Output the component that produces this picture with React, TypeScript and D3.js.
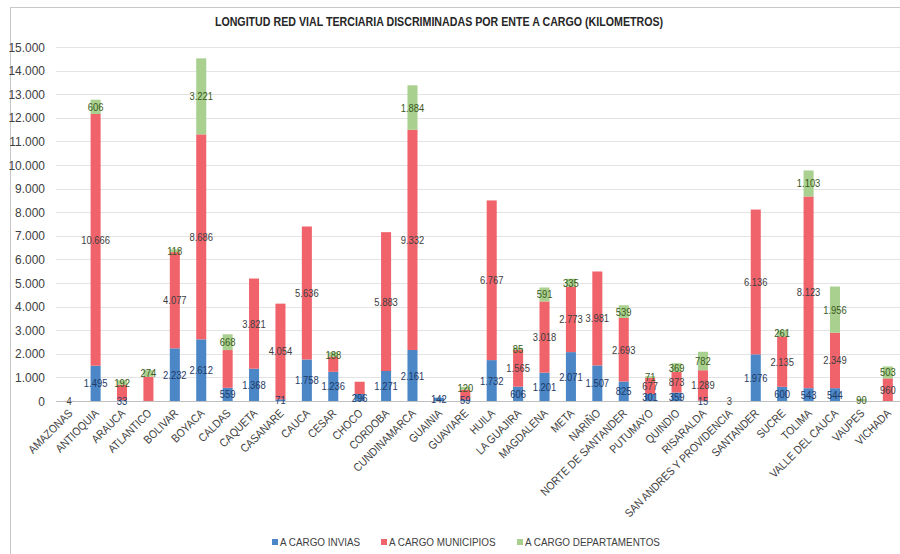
import * as React from 'react';
import * as d3 from 'd3';

const departamentos = [
    'AMAZONAS', 'ANTIOQUIA', 'ARAUCA', 'ATLANTICO', 'BOLIVAR', 'BOYACA', 'CALDAS', 'CAQUETA',
    'CASANARE', 'CAUCA', 'CESAR', 'CHOCO', 'CORDOBA', 'CUNDINAMARCA', 'GUAINIA', 'GUAVIARE',
    'HUILA', 'LA GUAJIRA', 'MAGDALENA', 'META', 'NARIÑO', 'NORTE DE SANTANDER', 'PUTUMAYO',
    'QUINDIO', 'RISARALDA', 'SAN ANDRES Y PROVIDENCIA', 'SANTANDER', 'SUCRE', 'TOLIMA',
    'VALLE DEL CAUCA', 'VAUPES', 'VICHADA'
];

const invias = [
    0, 1495, 33, 0, 2232, 2612, 559, 1368, 71, 1758, 1236, 296, 1271, 2161, 142, 59,
    1732, 606, 1201, 2071, 1507, 825, 301, 359, 15, 0, 1976, 600, 543, 544, 0, 0
];
const municipios = [
    4, 10666, 650, 1030, 4077, 8686, 1600, 3821, 4054, 5636, 640, 520, 5883, 9332, 0, 420,
    6767, 1565, 3018, 2773, 3981, 2693, 677, 873, 1289, 3, 6136, 2135, 8123, 2349, 0, 960
];
const departamentales = [
    0, 606, 192, 274, 118, 3221, 668, 0, 0, 0, 188, 0, 0, 1884, 0, 120,
    0, 85, 591, 335, 0, 539, 71, 369, 782, 0, 0, 261, 1103, 1956, 90, 503
];

// etiquetas que no aparecen en el grafico original
const sinEtiqueta = ['ARAUCA|mun', 'ATLANTICO|mun', 'CALDAS|mun', 'CESAR|mun', 'CHOCO|mun', 'GUAVIARE|mun'];

const yTicks = [0, 1000, 2000, 3000, 4000, 5000, 6000, 7000, 8000, 9000, 10000, 11000, 12000, 13000, 14000, 15000];

const series = [
    { key: 'inv', name: 'A CARGO INVIAS', color: '#4b86c6', text: '#1f3a66' },
    { key: 'mun', name: 'A CARGO MUNICIPIOS', color: '#f0636b', text: '#404040' },
    { key: 'dep', name: 'A CARGO DEPARTAMENTOS', color: '#a9d08e', text: '#3a5a22' }
];

const font = "'Liberation Sans Narrow', 'Arial Narrow', 'Liberation Sans', Arial, sans-serif";
const es = d3.formatLocale({ decimal: ',', thousands: '.', grouping: [3], currency: ['', ''] });
const fmt = es.format(',d');

const W = 900;
const H = 554;
const margin = { top: 47, left: 56, right: -1, bottom: 153 };

// texto angosto: Liberation Sans comprimido en horizontal
const narrow = (px: number, py: number, sx: number, rot = 0) =>
    `translate(${px},${py})${rot ? ` rotate(${rot})` : ''} scale(${sx},1)`;

const App = () => {
    const svgRef = React.useRef<SVGSVGElement>(null);

    React.useEffect(() => {
        const svg = d3.select(svgRef.current);
        svg.selectAll('*').remove();

        const rows = departamentos.map((d, i) => ({
            name: d, inv: invias[i], mun: municipios[i], dep: departamentales[i]
        }));
        const layers = d3.stack<any>().keys(series.map((s) => s.key))(rows);

        const x = d3.scaleBand()
            .domain(departamentos)
            .range([margin.left, W - margin.right])
            .paddingInner(0.62)
            .paddingOuter(0.31);
        const y = d3.scaleLinear().domain([0, 15000]).range([H - margin.bottom, margin.top]);

        // marco
        svg.append('rect')
            .attr('x', 10.5).attr('y', 7.5).attr('width', 1000).attr('height', 1000)
            .attr('fill', 'none').attr('stroke', '#c8c8c8');

        svg.append('text')
            .attr('transform', narrow(439, 26, 0.82))
            .attr('text-anchor', 'middle')
            .attr('font-family', font).attr('font-weight', 'bold').attr('font-size', 13)
            .attr('fill', '#262626')
            .text('LONGITUD RED VIAL TERCIARIA DISCRIMINADAS POR ENTE A CARGO (KILOMETROS)');

        const grid = svg.append('g');
        grid.selectAll('line')
            .data(yTicks)
            .join('line')
            .attr('x1', margin.left).attr('x2', W)
            .attr('y1', (d) => Math.round(y(d)) + 0.5).attr('y2', (d) => Math.round(y(d)) + 0.5)
            .attr('stroke', (d) => (d === 0 ? '#bfbfbf' : '#e3e3e3'));

        grid.selectAll('text')
            .data(yTicks)
            .join('text')
            .attr('transform', (d) => narrow(45, y(d) + 4.5, 0.92))
            .attr('text-anchor', 'end')
            .attr('font-family', font).attr('font-size', 13)
            .attr('fill', '#404040')
            .text((d) => fmt(d));

        const bars = svg.append('g');
        bars.selectAll('.layer')
            .data(layers)
            .join('g')
            .attr('class', 'layer')
            .attr('fill', (l) => series[l.index].color)
            .selectAll('rect')
            .data((l) => l)
            .join('rect')
            .attr('x', (d) => x(d.data.name)!)
            .attr('width', x.bandwidth())
            .attr('y', (d) => y(d[1]))
            .attr('height', (d) => y(d[0]) - y(d[1]));

        const labels = svg.append('g')
            .attr('font-family', font).attr('font-size', 11.5)
            .attr('text-anchor', 'middle');
        layers.forEach((l) => {
            const s = series[l.index];
            labels.selectAll(`.lbl-${s.key}`)
                .data(l.filter((d) => d[1] - d[0] > 0 && !sinEtiqueta.includes(`${d.data.name}|${s.key}`)))
                .join('text')
                .attr('class', `lbl-${s.key}`)
                .attr('transform', (d) => narrow(x(d.data.name)! + x.bandwidth() / 2, y((d[0] + d[1]) / 2) + 4, 0.82))
                .attr('fill', s.text)
                .text((d) => fmt(d[1] - d[0]));
        });

        const xAxis = svg.append('g');
        xAxis.selectAll('text')
            .data(departamentos)
            .join('text')
            .attr('transform', (d) => narrow(x(d)! + x.bandwidth() / 2 + 4, H - margin.bottom + 13, 0.88, -45))
            .attr('text-anchor', 'end')
            .attr('font-family', font).attr('font-size', 11.5)
            .attr('fill', '#404040')
            .text((d) => d);

        const legend = svg.append('g').attr('font-family', font).attr('font-size', 11.5);
        const legendX = [272, 381, 517];
        series.forEach((s, i) => {
            legend.append('rect')
                .attr('x', legendX[i]).attr('y', 539)
                .attr('width', 6).attr('height', 6)
                .attr('fill', s.color);
            legend.append('text')
                .attr('transform', narrow(legendX[i] + 8, 546, 0.86))
                .attr('fill', '#404040')
                .text(s.name);
        });
    }, []);

    return (
        <div style={{ position: 'absolute', left: 0, top: 0, width: W, height: H, background: '#fff' }}>
            <svg ref={svgRef} width={W} height={H} style={{ display: 'block' }} />
        </div>
    );
};

export default App;
